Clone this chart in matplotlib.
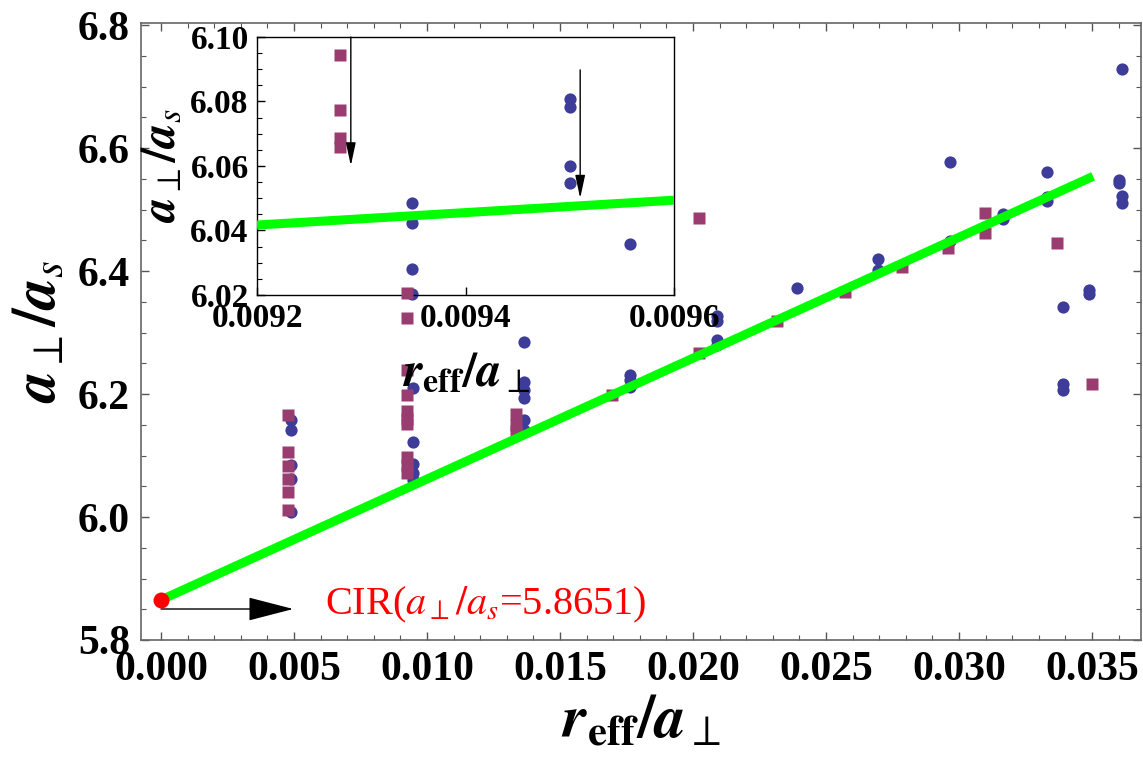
import numpy as np
import matplotlib.pyplot as plt
from matplotlib.ticker import MultipleLocator, FormatStrFormatter

plt.rcParams['font.family'] = ['Liberation Serif', 'DejaVu Serif']
plt.rcParams['mathtext.fontset'] = 'stix'

# main panel: blue circles
circ_x = [0.00489]*5 + [0.00949]*5 + [0.01366]*6 + [0.01763]*3 + [0.0209]*4 \
    + [0.02392] + [0.02694]*2 + [0.02966]*2 + [0.03167]*2 + [0.03331]*3 \
    + [0.03391]*3 + [0.03489]*2 + [0.03601]*2 + [0.03612]*3
circ_y = [6.158, 6.141, 6.085, 6.062, 6.0086,
          6.209, 6.122, 6.087, 6.071, 6.060,
          6.284, 6.220, 6.206, 6.193, 6.158, 6.141,
          6.231, 6.223, 6.212,
          6.327, 6.318, 6.288, 6.280,
          6.372,
          6.419, 6.401,
          6.577, 6.448,
          6.493, 6.484,
          6.561, 6.521, 6.514,
          6.342, 6.217, 6.207,
          6.369, 6.363,
          6.548, 6.543,
          6.728, 6.522, 6.510]

# main panel: purple squares
sq_x = [0.00479]*6 + [0.00924]*9 + [0.01335]*3 + [0.01694] + [0.02024]*2 \
    + [0.02315] + [0.02572] + [0.02785] + [0.02958] + [0.03097]*2 + [0.03369] + [0.03501]
sq_y = [6.166, 6.106, 6.083, 6.061, 6.040, 6.011,
        6.323, 6.239, 6.198, 6.172, 6.159, 6.151, 6.098, 6.085, 6.072,
        6.167, 6.150, 6.140,
        6.198,
        6.487, 6.266,
        6.318, 6.366, 6.407, 6.437,
        6.494, 6.462,
        6.445, 6.216]

# linear fit and CIR point
fit_x = [0.0, 0.03504]
fit_y = [5.8651, 6.554]
cir_x, cir_y = 0.0, 5.8651
cir_arrow = [(0.0, 5.8504), (0.00497, 5.8504)]

# inset data
in_circ_x = [0.009349]*4 + [0.0095]*4 + [0.009558]
in_circ_y = [6.0486, 6.0422, 6.0282, 6.0203, 6.0808, 6.0782, 6.0601, 6.0547, 6.0359]
in_sq_x = [0.00928]*4 + [0.009344]
in_sq_y = [6.0944, 6.0774, 6.0686, 6.066, 6.0205]
in_fit_x = [0.0092, 0.0096]
in_fit_y = [6.0417, 6.0494]
in_arrows = [((0.00929, 6.10), (0.00929, 6.0601)),
             ((0.00951, 6.0898), (0.00951, 6.050))]

blue = '#3d3d99'
purple = '#993d71'
green = '#00ff00'

fig = plt.figure(figsize=(11.43, 7.65), dpi=100)
ax = fig.add_axes([141/1143, 125/765, 1000/1143, 617/765])

ax.plot(circ_x, circ_y, 'o', ms=8.8, color=blue, mec='none', zorder=2)
ax.plot(sq_x, sq_y, 's', ms=8.2, color=purple, mec='none', zorder=3)
ax.plot(fit_x, fit_y, color=green, lw=6.5, solid_capstyle='butt', zorder=4)
ax.plot([cir_x], [cir_y], 'o', ms=11.5, color='red', mec='none', zorder=6)
ax.annotate('', xy=cir_arrow[1], xytext=cir_arrow[0],
            arrowprops=dict(arrowstyle='-|>,head_length=2.9,head_width=0.75',
                            color='black', lw=1, mutation_scale=10,
                            shrinkA=0, shrinkB=0), zorder=5)
ax.text(0.00617, 5.842, r'CIR($a_{\perp}/a_s$=5.8651)', color='red',
        fontsize=29, ha='left', va='baseline')

ax.set_xlim(-0.000752, 0.03684)
ax.set_ylim(5.8, 6.8033)
ax.xaxis.set_major_locator(MultipleLocator(0.005))
ax.xaxis.set_minor_locator(MultipleLocator(0.001))
ax.yaxis.set_major_locator(MultipleLocator(0.2))
ax.yaxis.set_minor_locator(MultipleLocator(0.05))
ax.xaxis.set_major_formatter(FormatStrFormatter('%.3f'))
ax.yaxis.set_major_formatter(FormatStrFormatter('%.1f'))
ax.tick_params(which='both', direction='in', top=True, right=True, color='#555555')
ax.tick_params(which='major', length=6, width=1, labelsize=30, pad=8)
ax.tick_params(which='minor', length=3.5, width=0.8)
for lab in ax.get_xticklabels() + ax.get_yticklabels():
    lab.set_fontweight('bold')
for sp in ax.spines.values():
    sp.set_color('#666666')
    sp.set_linewidth(1.2)
ax.set_xlabel(r'$\mathbfit{r}_{\mathbf{eff}}\mathbf{/}\mathbfit{a}_{\perp}$', fontsize=44, labelpad=4)
ax.set_ylabel(r'$\mathbfit{a}_{\perp}\mathbf{/}\mathbfit{a}_{\mathit{s}}$', fontsize=44, labelpad=7)

# inset
ins = fig.add_axes([257/1143, 470/765, 417/1143, 258/765])
ins.set_facecolor('white')
ins.plot(in_circ_x, in_circ_y, 'o', ms=8.8, color=blue, mec='none', zorder=2, clip_on=False)
ins.plot(in_sq_x, in_sq_y, 's', ms=8.2, color=purple, mec='none', zorder=3, clip_on=False)
ins.plot(in_fit_x, in_fit_y, color=green, lw=6.5, solid_capstyle='butt', zorder=4)
for start, end in in_arrows:
    ins.annotate('', xy=end, xytext=start,
                 arrowprops=dict(arrowstyle='-|>,head_length=1.4,head_width=0.3',
                                 color='black', lw=1, mutation_scale=10,
                                 shrinkA=0, shrinkB=0), zorder=5)
ins.set_xlim(0.0092, 0.0096)
ins.set_ylim(6.02, 6.10)
ins.xaxis.set_major_locator(MultipleLocator(0.0002))
ins.yaxis.set_major_locator(MultipleLocator(0.02))
ins.yaxis.set_minor_locator(MultipleLocator(0.005))
ins.xaxis.set_major_formatter(FormatStrFormatter('%.4f'))
ins.yaxis.set_major_formatter(FormatStrFormatter('%.2f'))
ins.tick_params(which='both', direction='in', color='black')
ins.tick_params(which='major', length=6, width=1, labelsize=24, pad=6)
ins.tick_params(which='minor', length=3.5, width=0.8)
for lab in ins.get_xticklabels() + ins.get_yticklabels():
    lab.set_fontweight('bold')
for sp in ins.spines.values():
    sp.set_color('black')
    sp.set_linewidth(1)
ins.set_xlabel(r'$\mathbfit{r}_{\mathbf{eff}}\mathbf{/}\mathbfit{a}_{\perp}$', fontsize=35, labelpad=12)
ins.set_ylabel(r'$\mathbfit{a}_{\perp}\mathbf{/}\mathbfit{a}_{\mathit{s}}$', fontsize=35, labelpad=4)

fig.savefig('out.png', dpi=100)
